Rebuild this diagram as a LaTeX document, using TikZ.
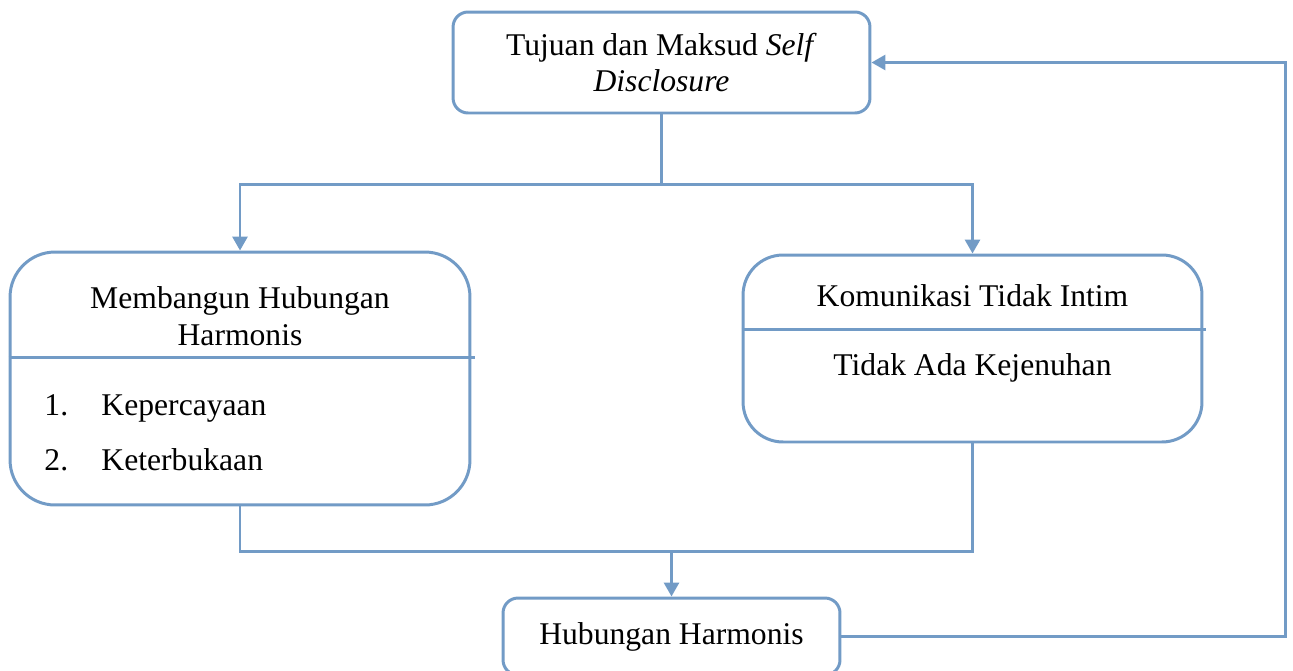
\documentclass[tikz,border=0pt]{standalone}
\usepackage{fontspec}
\setmainfont{Liberation Serif}
\usetikzlibrary{arrows.meta}
\definecolor{boxblue}{RGB}{114,155,198}

\begin{document}
\begin{tikzpicture}[x=0.02cm, y=-0.02cm, line width=1.7pt,
    every node/.style={font=\fontsize{18}{21}\selectfont},
    box/.style={draw=boxblue, line width=1.7pt, fill=white, align=center, inner sep=0pt},
    item/.style={anchor=base west, inner sep=0pt},
    line/.style={draw=boxblue, line width=1.7pt},
    arr/.style={line, -{Triangle[length=0.28cm, width=0.3cm]}}]
    \useasboundingbox (0,0) rectangle (1293,670);
    \clip (0,0) rectangle (1293,670);

    \node[box, rounded corners=0.3cm, minimum width=8.34cm, minimum height=2.02cm] (top) at (661.5,62.5) {Tujuan dan Maksud \textit{Self}\\\textit{Disclosure}};
    \node[box, rounded corners=0.9cm, minimum width=9.2cm, minimum height=5.06cm] (left) at (240,378.5) {};
    \node[box, rounded corners=0.8cm, minimum width=9.18cm, minimum height=3.74cm] (right) at (972.5,348.5) {};
    \node[box, rounded corners=0.3cm, minimum width=6.74cm, minimum height=1.54cm] (bottom) at (671.5,636.5) {Hubungan Harmonis};

    \draw[line] (left.west |- 0,357) -- (475,357);
    \draw[line] (right.west |- 0,329) -- (1206,329);

    \node[align=center] (lefthead) at (240,316) {Membangun Hubungan\\Harmonis};
    \node[item] (num1) at (43,415) {1.};
    \node[item] (item1) at (100,415) {Kepercayaan};
    \node[item] (num2) at (43,470) {2.};
    \node[item] (item2) at (100,470) {Keterbukaan};
    \node (righthead) at (972.5,296) {Komunikasi Tidak Intim};
    \node (rightbody) at (972.5,368) {Tidak Ada Kejenuhan};

    \coordinate (fork) at (661.5,184);
    \coordinate (join) at (671.5,551);
    \coordinate (back) at (1285,62.5);

    \draw[line] (top.south) -- (fork);
    \draw[arr] (fork) -| (left.north);
    \draw[arr] (fork) -| (right.north);
    \draw[line] (left.south) |- (join) -| (right.south);
    \draw[arr] (join) -- (bottom.north);
    \draw[arr] (bottom.east) -| (back) -- (top.east);
\end{tikzpicture}
\end{document}
